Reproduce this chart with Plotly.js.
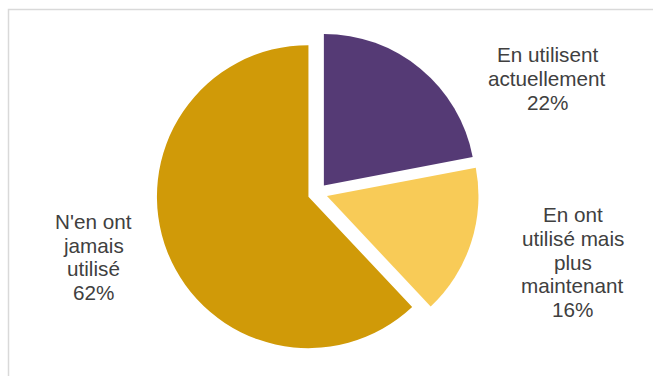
<!DOCTYPE html>
<html>
<head>
<meta charset="utf-8">
<script src="https://cdn.plot.ly/plotly-3.0.1.min.js"></script>
<style>html,body{margin:0;padding:0;background:#fff;}#chart{width:653px;height:376px;}</style>
</head>
<body>
<div id="chart"></div>
<script>
const categories = ["En utilisent<br>actuellement", "En ont<br>utilisé mais<br>plus<br>maintenant", "N'en ont<br>jamais<br>utilisé"];
const values = [22, 16, 62];
const colors = ["#553A75", "#F8CB57", "#D09A08"];

const W = 653, H = 376;
// label block centres (pixels)
const labelPos = [[547, 78.5], [572.5, 262], [93, 257]];
const lineGap = 23.6;

const total = values.reduce((a, b) => a + b, 0);
const annotations = [];
categories.forEach((cat, i) => {
  const pct = Math.round(values[i] / total * 100) + '%';
  const lines = cat.split('<br>').concat([pct]);
  const n = lines.length;
  lines.forEach((ln, j) => {
    const py = labelPos[i][1] + (j - (n - 1) / 2) * lineGap;
    annotations.push({
      xref: 'paper', yref: 'paper',
      x: labelPos[i][0] / W, y: 1 - py / H,
      xanchor: 'center', yanchor: 'middle',
      text: ln, showarrow: false,
      font: {family: 'Liberation Sans, Arial, sans-serif', size: 20.7, color: '#404040'}
    });
  });
});

const pullFrac = 0.065;
const cx = 317.6, cy = 193, half = 151.5 * (1 + pullFrac);
const trace = {
  type: 'pie',
  labels: categories,
  values: values,
  sort: false,
  direction: 'clockwise',
  rotation: 0,
  pull: [pullFrac, pullFrac, pullFrac],
  marker: {colors: colors, line: {width: 0}},
  textinfo: 'none',
  hoverinfo: 'skip',
  showlegend: false,
  domain: {x: [(cx - half) / W, (cx + half) / W], y: [1 - (cy + half) / H, 1 - (cy - half) / H]}
};

const layout = {
  width: W, height: H,
  margin: {l: 0, r: 0, t: 0, b: 0},
  paper_bgcolor: '#ffffff',
  plot_bgcolor: '#ffffff',
  showlegend: false,
  annotations: annotations,
  shapes: [{
    type: 'rect', xref: 'paper', yref: 'paper',
    x0: 8.5 / W, x1: 1.2, y0: -0.2, y1: 1 - 9.5 / H,
    line: {color: '#D9D9D9', width: 1.5}, fillcolor: 'rgba(0,0,0,0)', layer: 'below'
  }]
};

Plotly.newPlot('chart', [trace], layout, {displayModeBar: false, staticPlot: true});
</script>
</body>
</html>
